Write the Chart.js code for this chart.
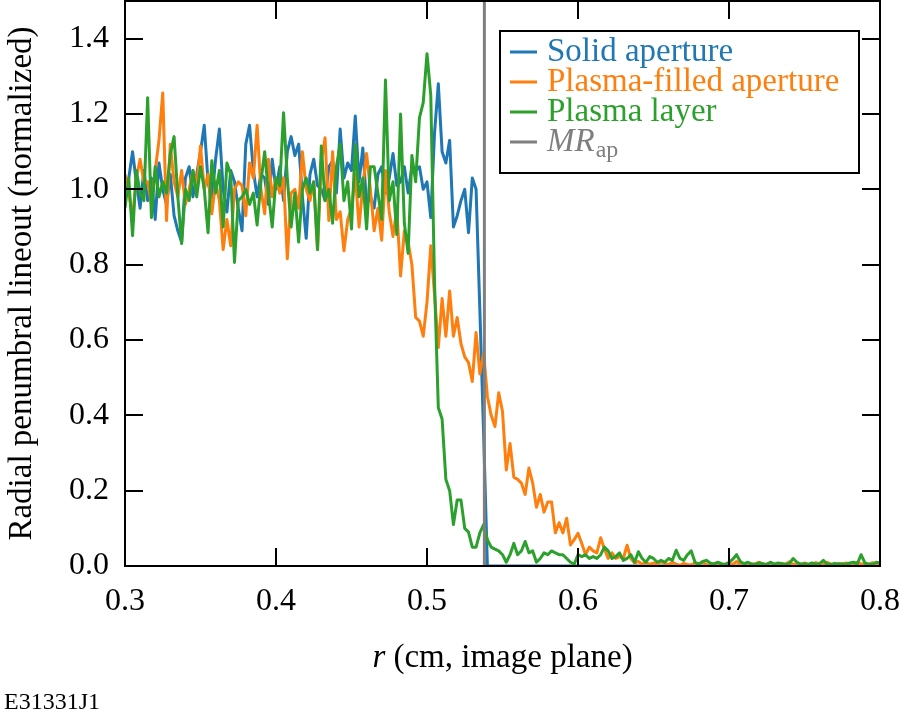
<!DOCTYPE html>
<html>
<head>
<meta charset="utf-8">
<script src="https://cdn.jsdelivr.net/npm/chart.js@4.4.0/dist/chart.umd.min.js"></script>
<style>
  html, body { margin: 0; padding: 0; background: #fff; }
</style>
</head>
<body>
<canvas id="myChart" width="904" height="724"></canvas>
<script>
// sampling grid of the lineouts (cm, image plane)
var R_START = 0.3, R_STEP = 0.0025;

// Solid aperture
var solid = [
  0.97, 1.03, 1.10, 1.02, 0.95, 1.05, 0.97, 1.03, 0.92, 1.07,
  1.00, 0.96, 1.04, 0.93, 0.89, 0.86, 1.03, 1.06, 0.98, 1.04,
  1.10, 1.17, 1.02, 0.97, 1.08, 1.16, 1.00, 0.94, 1.05, 1.02,
  0.95, 0.89, 1.12, 1.17, 1.05, 0.98, 1.04, 1.03, 0.96, 1.08,
  1.00, 1.06, 0.97, 1.10, 1.14, 1.09, 1.12, 0.98, 0.87, 1.04,
  1.08, 1.01, 1.00, 0.97, 1.06, 1.075, 0.99, 1.16, 1.03, 1.07,
  1.05, 1.195, 1.02, 1.11, 0.96, 0.98, 0.95, 1.04, 1.06, 0.99,
  1.03, 1.095, 1.01, 1.02, 1.06, 0.99, 1.06, 1.05, 1.06, 1.00,
  1.02, 0.925, 1.15, 1.28, 1.10, 1.07, 1.13, 0.90, 0.93, 0.97,
  1.00, 0.885, 1.03, 1.00, 0.68, 0.35, 0, 0, 0, 0,
  0, 0, 0, 0, 0, 0, 0, 0, 0, 0,
  0, 0, 0, 0, 0, 0, 0, 0, 0, 0,
  0, 0, 0, 0, 0, 0, 0, 0, 0, 0,
  0, 0, 0, 0, 0, 0, 0, 0, 0, 0,
  0, 0, 0, 0, 0, 0, 0, 0, 0, 0,
  0, 0, 0, 0, 0, 0, 0, 0, 0, 0,
  0, 0, 0, 0, 0, 0, 0, 0, 0, 0,
  0, 0, 0, 0, 0, 0, 0, 0, 0, 0,
  0, 0, 0, 0, 0, 0, 0, 0, 0, 0,
  0, 0, 0, 0, 0, 0, 0, 0, 0, 0,
  0
];

// Plasma-filled aperture
var plasmaFilled = [
  1.04, 0.99, 0.925, 1.03, 1.08, 1.02, 1.02, 0.96, 1.05, 1.13,
  1.256, 0.917, 1.12, 1.02, 0.98, 1.05, 0.96, 1.00, 1.05, 1.01,
  1.115, 1.00, 1.04, 0.935, 1.02, 0.97, 0.84, 0.92, 0.85, 1.00,
  1.02, 1.01, 0.93, 1.07, 1.03, 1.17, 1.00, 0.935, 1.08, 0.98,
  1.03, 0.99, 1.03, 0.816, 0.99, 1.00, 0.95, 1.10, 1.00, 0.97,
  1.02, 0.84, 1.075, 1.137, 0.917, 1.10, 0.92, 0.94, 0.837, 0.92,
  0.95, 1.04, 0.90, 1.01, 1.095, 1.00, 0.89, 0.95, 0.865, 1.05,
  0.94, 0.875, 0.95, 0.77, 0.89, 0.86, 0.80, 0.66, 0.65, 0.61,
  0.70, 0.85, 0.72, 0.58, 0.71, 0.61, 0.73, 0.61, 0.66, 0.59,
  0.555, 0.54, 0.49, 0.62, 0.51, 0.565, 0.45, 0.40, 0.37, 0.46,
  0.41, 0.255, 0.325, 0.236, 0.23, 0.22, 0.19, 0.26, 0.22, 0.156,
  0.19, 0.143, 0.17, 0.17, 0.088, 0.115, 0.088, 0.127, 0.056, 0.07,
  0.087, 0.06, 0.03, 0.05, 0.04, 0.035, 0.075, 0.045, 0.02, 0.035,
  0.02, 0.025, 0.02, 0.055, 0.02, 0.008, 0.012, 0.005, 0.01, 0.004,
  0.008, 0.003, 0.012, 0.006, 0.004, 0.01, 0.005, 0.002, 0.007, 0.004,
  0.003, 0.008, 0.005, 0.01, 0.004, 0.002, 0.006, 0.009, 0.003, 0.005,
  0.007, 0.004, 0.012, 0.005, 0.003, 0.008, 0.004, 0.006, 0.01, 0.003,
  0.005, 0.009, 0.004, 0.002, 0.007, 0.005, 0.011, 0.004, 0.006, 0.003,
  0.008, 0.005, 0.003, 0.009, 0.006, 0.004, 0.01, 0.005, 0.002, 0.007,
  0.004, 0.008, 0.006, 0.003, 0.01, 0.005, 0.007, 0.004, 0.009, 0.005,
  0.006
];

// Plasma layer
var plasmaLayer = [
  0.95, 1.03, 0.877, 1.05, 0.99, 0.97, 1.243, 0.925, 1.06, 0.98,
  1.02, 0.99, 1.094, 1.14, 0.98, 0.856, 1.00, 0.97, 1.05, 0.98,
  1.06, 1.00, 0.885, 1.076, 0.99, 1.05, 0.90, 1.07, 1.04, 0.806,
  0.97, 0.98, 1.00, 0.96, 0.99, 0.905, 1.02, 1.10, 0.99, 0.90,
  1.03, 1.01, 1.203, 1.03, 0.90, 0.99, 0.86, 1.00, 1.03, 0.99,
  1.02, 0.84, 1.115, 0.97, 1.00, 0.91, 1.06, 1.12, 0.97, 1.02,
  0.895, 1.12, 0.98, 1.03, 0.895, 1.06, 1.06, 0.99, 0.92, 1.29,
  0.97, 1.02, 0.88, 1.20, 0.91, 0.83, 1.09, 1.02, 1.19, 1.23,
  1.36, 1.25, 0.75, 0.42, 0.39, 0.23, 0.20, 0.11, 0.175, 0.175,
  0.10, 0.09, 0.05, 0.05, 0.088, 0.11, 0.07, 0.05, 0.045, 0.04,
  0.03, 0.01, 0.03, 0.06, 0.03, 0.04, 0.065, 0.035, 0.04, 0.01,
  0.02, 0.035, 0.03, 0.04, 0.035, 0.03, 0.03, 0.02, 0.01, 0.005,
  0.03, 0.025, 0.03, 0.02, 0.025, 0.02, 0.03, 0.05, 0.04, 0.02,
  0.025, 0.035, 0.015, 0.02, 0.03, 0.01, 0.038, 0.02, 0.01, 0.025,
  0.02, 0.01, 0.015, 0.01, 0.02, 0.015, 0.042, 0.02, 0.015, 0.03,
  0.04, 0.01, 0.005, 0.012, 0.015, 0.008, 0.005, 0.01, 0.006, 0.004,
  0.01, 0.018, 0.03, 0.012, 0.006, 0.01, 0.005, 0.004, 0.008, 0.006,
  0.004, 0.01, 0.005, 0.008, 0.006, 0.004, 0.007, 0.02, 0.01, 0.005,
  0.006, 0.004, 0.008, 0.005, 0.006, 0.015, 0.005, 0.004, 0.007, 0.005,
  0.006, 0.004, 0.008, 0.01, 0.006, 0.03, 0.008, 0.005, 0.004, 0.01,
  0.008
];

// magnified aperture radius
var mrAp = 0.538;

var xTicks = [0.3, 0.4, 0.5, 0.6, 0.7, 0.8];
var yTicks = [0.0, 0.2, 0.4, 0.6, 0.8, 1.0, 1.2, 1.4];

var legendItems = [
  { text: 'Solid aperture', color: '#1f77b4' },
  { text: 'Plasma-filled aperture', color: '#ff7f0e' },
  { text: 'Plasma layer', color: '#2ca02c' },
  { text: 'MR', sub: 'ap', color: '#7f7f7f' }
];

var SERIF = '"Liberation Serif", "DejaVu Serif", serif';

function toPoints(vals) {
  return vals.map(function (v, i) { return { x: R_START + i * R_STEP, y: v }; });
}

// inward ticks, frame, titles and the boxed legend
var decor = {
  id: 'decor',
  afterDraw: function (chart) {
    var ctx = chart.ctx, a = chart.chartArea;
    var xs = chart.scales.x, ys = chart.scales.y;
    ctx.save();
    ctx.strokeStyle = '#000';
    ctx.lineWidth = 2;
    ctx.strokeRect(a.left, a.top, a.right - a.left, a.bottom - a.top);
    ctx.beginPath();
    xTicks.forEach(function (t) {
      var px = Math.round(xs.getPixelForValue(t));
      ctx.moveTo(px, a.bottom); ctx.lineTo(px, a.bottom - 18);
      ctx.moveTo(px, a.top); ctx.lineTo(px, a.top + 18);
    });
    yTicks.forEach(function (t) {
      var py = Math.round(ys.getPixelForValue(t));
      ctx.moveTo(a.left, py); ctx.lineTo(a.left + 18, py);
      ctx.moveTo(a.right, py); ctx.lineTo(a.right - 18, py);
    });
    ctx.stroke();

    // x title
    ctx.fillStyle = '#000';
    ctx.textBaseline = 'middle';
    ctx.font = 'italic 33px ' + SERIF;
    var w1 = ctx.measureText('r').width;
    ctx.font = '33px ' + SERIF;
    var rest = ' (cm, image plane)';
    var w2 = ctx.measureText(rest).width;
    var cx = (a.left + a.right) / 2;
    var x0 = cx - (w1 + w2) / 2;
    ctx.textAlign = 'left';
    ctx.font = 'italic 33px ' + SERIF;
    ctx.fillText('r', x0, 658);
    ctx.font = '33px ' + SERIF;
    ctx.fillText(rest, x0 + w1, 658);

    // y title
    ctx.save();
    ctx.translate(22, (a.top + a.bottom) / 2);
    ctx.rotate(-Math.PI / 2);
    ctx.textAlign = 'center';
    ctx.fillText('Radial penumbral lineout (normalized)', 0, 0);
    ctx.restore();

    // figure id
    ctx.font = '24px ' + SERIF;
    ctx.textAlign = 'left';
    ctx.fillText('E31331J1', 4, 703);

    // legend
    ctx.fillStyle = '#fff';
    ctx.fillRect(500, 31, 359, 142);
    ctx.strokeStyle = '#000';
    ctx.lineWidth = 2;
    ctx.strokeRect(500, 31, 359, 142);
    legendItems.forEach(function (it, i) {
      var y = 52 + i * 30;
      ctx.strokeStyle = it.color;
      ctx.lineWidth = 3;
      ctx.beginPath();
      ctx.moveTo(510, y); ctx.lineTo(537, y);
      ctx.stroke();
      ctx.fillStyle = it.color;
      ctx.textAlign = 'left';
      if (it.sub) {
        ctx.font = 'italic 33px ' + SERIF;
        ctx.fillText(it.text, 547, y);
        var wm = ctx.measureText(it.text).width;
        ctx.font = '24px ' + SERIF;
        ctx.fillText(it.sub, 547 + wm + 1, y + 9);
      } else {
        ctx.font = '33px ' + SERIF;
        ctx.fillText(it.text, 547, y);
      }
    });
    ctx.restore();
  }
};

var ctx = document.getElementById('myChart').getContext('2d');
var chart = new Chart(ctx, {
  type: 'line',
  data: {
    datasets: [{
      label: 'MR_ap',
      data: [{ x: mrAp, y: 0 }, { x: mrAp, y: 1.5 }],
      borderColor: '#7f7f7f',
      borderWidth: 3,
      order: 0
    }, {
      label: 'Plasma layer',
      data: toPoints(plasmaLayer),
      borderColor: '#2ca02c',
      order: 1
    }, {
      label: 'Plasma-filled aperture',
      data: toPoints(plasmaFilled),
      borderColor: '#ff7f0e',
      order: 2
    }, {
      label: 'Solid aperture',
      data: toPoints(solid),
      borderColor: '#1f77b4',
      order: 3
    }]
  },
  options: {
    responsive: false,
    animation: false,
    events: [],
    layout: { padding: { top: 1, right: 24, left: 0, bottom: 0 } },
    elements: {
      point: { radius: 0 },
      line: { borderWidth: 3, tension: 0, fill: false, borderJoinStyle: 'round' }
    },
    plugins: { legend: { display: false }, tooltip: { enabled: false } },
    scales: {
      x: {
        type: 'linear', min: 0.3, max: 0.8,
        afterBuildTicks: function (s) { s.ticks = xTicks.map(function (v) { return { value: v }; }); },
        afterFit: function (s) { s.height = 158; s.paddingLeft = 0; s.paddingRight = 0; },
        grid: { display: false, drawTicks: false },
        border: { display: false },
        ticks: {
          color: '#000', padding: 16, maxRotation: 0, autoSkip: false,
          font: { family: SERIF, size: 32 },
          callback: function (v) { return v.toFixed(1); }
        }
      },
      y: {
        type: 'linear', min: 0, max: 1.5,
        afterBuildTicks: function (s) { s.ticks = yTicks.map(function (v) { return { value: v }; }); },
        afterFit: function (s) { s.width = 125; s.paddingTop = 0; s.paddingBottom = 0; },
        grid: { display: false, drawTicks: false },
        border: { display: false },
        ticks: {
          color: '#000', padding: 16, autoSkip: false,
          font: { family: SERIF, size: 32 },
          callback: function (v) { return v.toFixed(1); }
        }
      }
    }
  },
  plugins: [decor]
});
</script>
</body>
</html>
